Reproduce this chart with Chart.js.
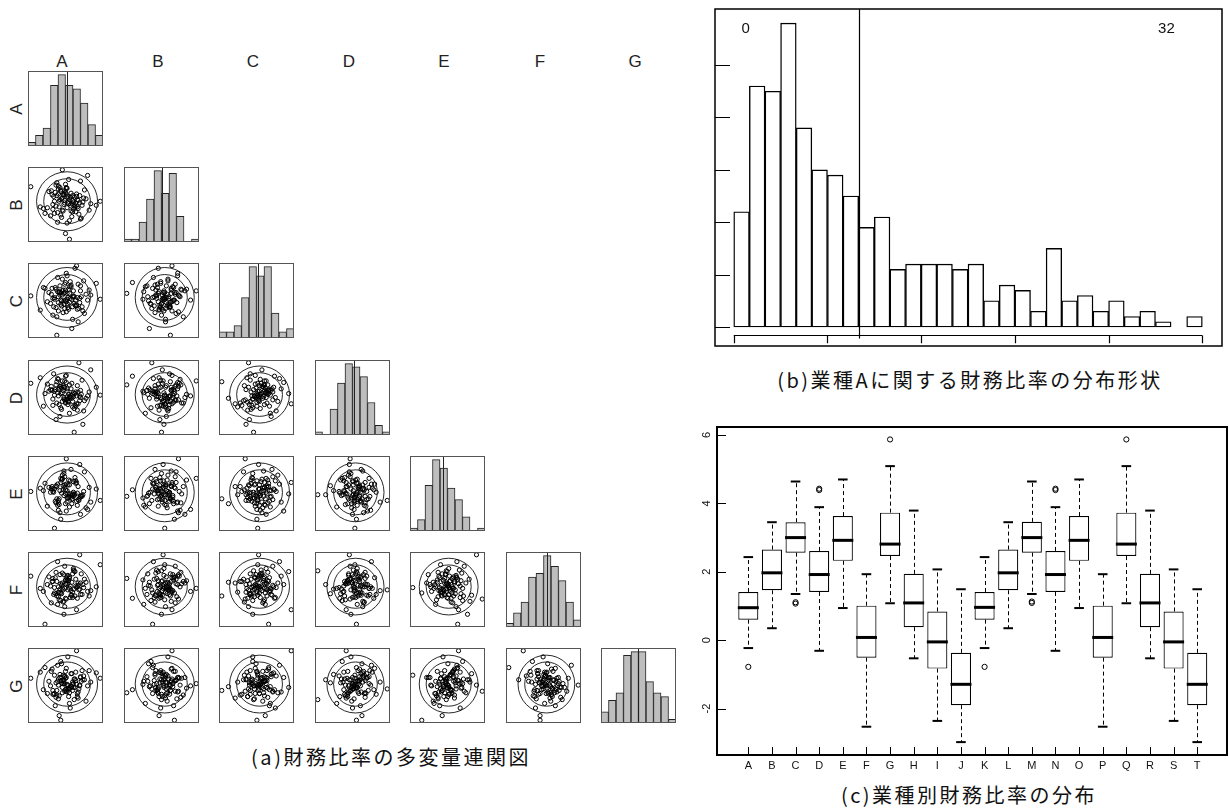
<!DOCTYPE html>
<html>
<head>
<meta charset="utf-8">
<script src="https://cdn.jsdelivr.net/npm/chart.js"></script>
<style>
  body { margin: 0; width: 1229px; height: 810px; background: #fff; position: relative; overflow: hidden; font-family: "Liberation Sans", Arial, sans-serif; color: #111; }
  canvas { position: absolute; }
  .head { position: absolute; font-size: 17px; width: 30px; text-align: center; line-height: 20px; color: #222; }
  .side { position: absolute; font-size: 17px; width: 30px; text-align: center; line-height: 20px; color: #222; transform: rotate(-90deg); }
  .cap { position: absolute; font-family: "Noto Sans CJK JP", sans-serif; font-size: 20px; letter-spacing: 2.5px; line-height: 24px; white-space: nowrap; transform: translateX(-50%); color: #111; }
</style>
</head>
<body>
<div class="cap" style="left:391px;top:745px">(a)財務比率の多変量連関図</div>
<div class="cap" style="left:970px;top:368px">(b)業種Aに関する財務比率の分布形状</div>
<div class="cap" style="left:969px;top:783px">(c)業種別財務比率の分布</div>
<canvas id="distChart" width="509" height="339" style="left:714px;top:8px"></canvas>
<canvas id="boxChart" width="539" height="370" style="left:690px;top:420px"></canvas>
<script>
// ---- (a) scatter matrix data ----
const vars = ['A', 'B', 'C', 'D', 'E', 'F', 'G'];

const varA = [5.2,4.1,6.3,3.8,5.9,4.6,7.1,2.9,5.5,4.9, 6.8,3.4,5.1,4.4,6.0,8.2,3.9,5.7,4.8,6.5,
  2.4,5.3,4.2,7.4,5.0,3.6,6.1,4.7,5.8,0.6, 4.5,6.6,3.2,5.4,7.8,4.0,5.6,6.2,3.7,4.9,
  5.1,7.0,4.3,2.7,6.4,5.2,3.5,6.9,4.6,5.9, 8.9,4.1,5.3,6.7,3.3,4.8,5.5,7.3,4.4,6.0,
  3.9,5.0,6.3,4.2,1.8,5.7,6.8,4.5,5.2,3.8, 7.6,4.7,5.4,6.1,3.1,4.9,5.8,6.6,4.0,5.1,
  2.2,6.4,4.3,5.6,7.2,3.6,5.0,4.6,6.2,5.3, 4.8,3.4,6.9,5.5,4.1,8.0,5.9,4.4,6.5,9.4];
const varB = [4.4,6.1,5.0,7.2,3.9,5.6,4.7,6.4,2.8,5.3, 5.9,4.2,6.8,3.5,5.1,4.9,7.5,4.0,6.2,5.4,
  3.7,5.8,4.5,6.6,1.2,5.2,4.8,6.0,3.3,7.0, 5.5,4.3,6.5,4.9,8.4,3.8,5.7,4.6,6.3,5.0,
  6.9,3.1,5.4,4.4,6.1,2.5,5.8,7.7,4.1,5.3, 4.7,6.7,5.1,3.6,6.0,4.8,0.5,5.6,6.4,4.2,
  5.9,7.3,3.9,5.2,4.5,6.2,5.0,3.2,6.8,4.6, 5.5,4.0,7.9,5.7,3.4,6.5,4.9,5.3,2.6,6.1,
  4.3,5.8,6.9,4.7,5.1,3.7,6.3,9.1,4.4,5.6, 6.0,4.8,3.0,5.4,7.1,4.1,5.9,6.6,4.5,5.2];
const varC = [5.7,3.6,4.9,6.2,5.3,7.4,4.1,5.8,6.5,3.9, 4.6,5.1,8.1,4.4,6.0,5.5,2.9,6.7,4.8,5.2,
  6.3,4.0,5.9,3.3,7.0,5.0,4.5,6.1,1.5,5.4, 4.2,6.8,5.6,3.8,4.9,7.6,5.1,4.3,6.4,5.8,
  3.5,5.3,6.6,4.7,9.0,5.0,4.1,6.0,5.5,2.6, 6.9,4.6,5.2,3.9,6.3,4.4,5.7,7.2,4.9,5.4,
  0.7,6.1,4.2,5.8,3.7,6.5,5.1,4.8,7.8,4.0, 5.6,3.4,6.2,5.3,4.5,6.8,5.0,2.3,5.9,4.7,
  6.4,4.3,5.5,7.1,3.6,5.2,4.9,6.0,8.7,4.4, 5.7,3.1,6.6,4.6,5.3,6.1,4.1,5.8,3.8,5.0];
const varD = [4.9,5.8,3.7,6.4,5.2,4.3,7.0,5.6,2.8,6.1, 5.0,4.6,6.7,3.5,5.4,8.3,4.1,5.9,4.8,6.3,
  5.3,3.9,6.0,4.4,7.5,5.1,0.4,5.7,4.7,6.6, 3.3,5.5,6.2,4.2,5.0,7.2,4.9,3.8,5.8,6.9,
  4.5,5.2,2.4,6.5,4.0,5.6,7.8,4.8,5.4,3.6, 6.1,5.0,4.3,9.2,5.7,4.6,6.4,3.1,5.3,4.9,
  6.8,4.1,5.5,3.9,7.3,5.1,4.4,6.0,5.9,2.0, 4.7,6.3,5.2,3.4,5.8,4.5,6.6,4.0,5.4,7.6,
  3.7,5.0,6.2,4.8,1.4,5.6,4.2,6.9,5.3,4.6, 6.1,3.8,5.7,4.9,7.1,5.5,4.3,6.4,3.2,5.1];
const varE = [5.4,4.2,6.6,3.9,5.0,7.3,4.7,5.8,3.4,6.1, 4.5,5.6,2.9,6.9,5.2,4.0,5.9,8.0,4.8,3.6,
  6.3,5.1,4.4,7.7,5.5,0.8,4.9,6.0,3.8,5.3, 6.7,4.3,5.7,4.6,3.1,6.2,5.0,7.0,4.1,5.8,
  9.3,4.8,5.4,3.5,6.4,4.5,5.2,2.5,6.8,4.9, 5.6,3.9,6.1,4.2,5.9,7.5,4.7,5.3,1.9,6.5,
  4.4,5.0,6.3,3.7,5.7,4.6,8.6,5.1,4.0,6.0, 3.3,5.5,6.7,4.8,5.2,7.1,4.3,5.9,3.6,6.2,
  5.4,4.1,2.7,6.6,4.9,5.6,3.8,6.9,5.0,4.5, 7.8,5.3,4.7,6.1,3.0,5.8,4.4,6.4,5.1,4.2];
const varF = [6.0,4.5,5.3,7.1,3.8,5.7,4.2,6.5,5.0,2.6, 4.9,6.3,5.5,3.4,7.6,4.7,5.9,4.1,6.8,5.2,
  0.3,5.6,4.4,6.2,3.7,5.1,7.3,4.8,5.8,6.6, 4.3,5.4,3.1,6.0,4.6,8.5,5.3,4.0,6.4,5.0,
  3.6,6.9,4.9,5.5,2.2,6.1,4.2,5.7,7.0,4.5, 5.2,3.9,6.7,4.8,5.9,1.6,6.3,5.1,4.4,7.4,
  4.0,5.6,6.2,3.5,5.0,4.7,9.4,5.4,6.6,4.3, 5.8,3.2,6.0,4.9,5.3,7.9,4.1,5.7,2.9,6.4,
  4.6,5.1,6.8,3.8,5.5,4.4,6.1,5.0,7.2,4.8, 3.3,5.9,4.2,6.5,5.2,4.0,6.9,5.6,3.7,8.1];
const varG = [4.6,5.9,6.8,3.5,5.2,4.1,7.0,5.6,2.7,6.3, 5.0,4.4,6.1,8.2,4.8,5.5,3.8,6.6,5.3,4.0,
  7.4,5.1,1.1,5.8,4.5,6.4,3.2,5.7,4.9,6.0, 5.4,4.2,6.9,3.6,5.0,7.7,4.7,5.9,2.4,6.2,
  4.3,5.6,6.5,4.0,9.6,5.2,3.9,6.1,4.8,5.5, 6.7,3.3,5.0,4.6,7.2,5.8,4.1,6.3,0.5,5.3,
  4.4,6.0,5.7,3.7,6.8,4.9,5.1,7.9,4.2,5.4, 3.0,6.4,4.7,5.9,5.0,4.3,6.6,3.4,5.6,7.3,
  4.5,5.2,6.1,2.1,5.8,4.0,6.9,5.3,4.8,8.8, 5.5,3.9,6.2,4.6,5.1,7.0,4.4,5.7,3.6,6.0];
const series = [varA, varB, varC, varD, varE, varF, varG];

// histogram counts on the diagonal (10 bins each) and the marker line position (in bins)
const histA = [1, 3, 5, 17, 20, 17, 16, 12, 6, 3];
const histB = [1, 1, 7, 15, 25, 17, 24, 9, 0, 1];
const histC = [2, 2, 4, 13, 23, 20, 23, 8, 2, 3];
const histD = [1, 0, 8, 16, 22, 21, 18, 10, 3, 1];
const histE = [1, 4, 16, 25, 22, 15, 11, 5, 0, 1];
const histF = [1, 4, 7, 14, 15, 20, 17, 13, 7, 2];
const histG = [3, 6, 8, 18, 19, 19, 11, 8, 7, 1];
const hists = [histA, histB, histC, histD, histE, histF, histG];
const histMarks = [5.2, 5.02, 5.16, 5.18, 4.39, 5.49, 4.87];
const ellipseLevels = [1.95, 2.55];

// ---- (b) distribution of industry A ----
const distCounts = [22, 46, 45, 58, 38, 30, 29, 25, 19, 21, 11, 12, 12, 12, 11,
  12, 5, 8, 7, 3, 15, 5, 6, 3, 5, 2, 3, 1, 0, 2];
const distXTicks = [0, 6, 12, 18, 24, 30];
const distYTicks = [0, 10, 20, 30, 40, 50];
const distCut = 8;
const distNotes = ['0', '32'];

// ---- (c) box plots by industry ----
const boxLabels = ['A','B','C','D','E','F','G','H','I','J','K','L','M','N','O','P','Q','R','S','T'];
const boxLow  = [-0.23, 0.35, 1.35, -0.31, 0.94, -2.53, 1.08, -0.53, -2.36, -2.98,
                 -0.23, 0.35, 1.35, -0.31, 0.94, -2.53, 1.08, -0.53, -2.36, -2.98];
const boxQ1   = [0.60, 1.46, 2.56, 1.41, 2.32, -0.51, 2.46, 0.38, -0.83, -1.90,
                 0.60, 1.46, 2.56, 1.41, 2.32, -0.51, 2.46, 0.38, -0.83, -1.90];
const boxMed  = [0.95, 1.97, 3.00, 1.92, 2.92, 0.08, 2.81, 1.09, -0.05, -1.29,
                 0.96, 1.97, 3.00, 1.92, 2.92, 0.08, 2.81, 1.09, -0.05, -1.29];
const boxQ3   = [1.41, 2.65, 3.45, 2.61, 3.63, 1.01, 3.73, 1.94, 0.84, -0.37,
                 1.41, 2.65, 3.46, 2.61, 3.63, 1.01, 3.73, 1.94, 0.84, -0.37];
const boxHigh = [2.43, 3.45, 4.64, 3.89, 4.70, 1.93, 5.09, 3.79, 2.07, 1.49,
                 2.43, 3.45, 4.64, 3.89, 4.70, 1.93, 5.09, 3.79, 2.07, 1.49];
const outlierCat = ['A', 'C', 'C', 'D', 'D', 'G', 'K', 'M', 'M', 'N', 'N', 'Q'];
const outlierVal = [-0.78, 1.07, 1.11, 4.39, 4.43, 5.87, -0.78, 1.09, 1.13, 4.39, 4.43, 5.87];
const boxYTicks = [-2, 0, 2, 4, 6];

Chart.defaults.font.family = '"Liberation Sans", Arial, sans-serif';
Chart.defaults.animation = false;

const mean = a => a.reduce((s, v) => s + v, 0) / a.length;
const sd = a => { const m = mean(a); return Math.sqrt(a.reduce((s, v) => s + (v - m) * (v - m), 0) / (a.length - 1)); };
// axis range = data range widened by 4% on each side
const padRange = a => { const lo = Math.min(...a), hi = Math.max(...a), d = (hi - lo) * 0.04; return [lo - d, hi + d]; };

// frame around the plot area
const framePlugin = {
  id: 'frame',
  afterDraw(chart, args, opts) {
    const { ctx, chartArea: a } = chart;
    ctx.save();
    ctx.strokeStyle = opts.color || '#000';
    ctx.lineWidth = opts.width || 1;
    const o = opts.width === 1 ? 0.5 : 0;
    ctx.strokeRect(a.left + o, a.top + o, a.right - a.left - 2 * o, a.bottom - a.top - 2 * o);
    ctx.restore();
  }
};

// vertical marker line on the diagonal histograms
const markPlugin = {
  id: 'mark',
  afterDatasetsDraw(chart, args, opts) {
    if (opts.at == null) return;
    const { ctx, chartArea: a } = chart;
    const x = Math.round(chart.scales.x.getPixelForValue(opts.at)) + 0.5;
    ctx.save();
    ctx.strokeStyle = '#222';
    ctx.lineWidth = 1;
    ctx.beginPath();
    ctx.moveTo(x, a.top);
    ctx.lineTo(x, a.bottom);
    ctx.stroke();
    ctx.restore();
  }
};

// concentric data ellipses on the scatter panels
const ellipsePlugin = {
  id: 'ellipses',
  afterDatasetsDraw(chart, args, opts) {
    if (!opts.levels) return;
    const { ctx, chartArea: a } = chart;
    const sx = chart.scales.x, sy = chart.scales.y;
    ctx.save();
    ctx.beginPath();
    ctx.rect(a.left, a.top, a.right - a.left, a.bottom - a.top);
    ctx.clip();
    ctx.strokeStyle = '#111';
    ctx.lineWidth = 0.9;
    opts.levels.forEach(k => {
      const cx = sx.getPixelForValue(opts.mx), cy = sy.getPixelForValue(opts.my);
      const rx = Math.abs(sx.getPixelForValue(opts.mx + k * opts.sx) - cx);
      const ry = Math.abs(sy.getPixelForValue(opts.my + k * opts.sy) - cy);
      ctx.beginPath();
      ctx.ellipse(cx, cy, rx, ry, 0, 0, Math.PI * 2);
      ctx.stroke();
    });
    ctx.restore();
  }
};

const quiet = { legend: { display: false }, tooltip: { enabled: false } };

// build the lower triangle of the matrix
vars.forEach((rowName, i) => {
  const left = 28, top = 71;
  const side = document.createElement('div');
  side.className = 'side';
  side.textContent = rowName;
  side.style.left = '2px';
  side.style.top = Math.round(top + 96.2 * i + 28) + 'px';
  document.body.appendChild(side);

  const head = document.createElement('div');
  head.className = 'head';
  head.textContent = rowName;
  head.style.left = Math.round(left + 95.5 * i + 19) + 'px';
  head.style.top = '52px';
  document.body.appendChild(head);

  for (let j = 0; j <= i; j++) {
    const cv = document.createElement('canvas');
    cv.width = 75; cv.height = 75;
    cv.style.left = Math.round(left + 95.5 * j) + 'px';
    cv.style.top = Math.round(top + 96.2 * i) + 'px';
    document.body.appendChild(cv);

    if (i === j) {
      const counts = hists[i];
      new Chart(cv, {
        type: 'bar',
        data: {
          datasets: [{
            data: counts.map((c, k) => ({ x: k + 0.5, y: c })),
            backgroundColor: '#bebebe',
            borderColor: '#222',
            borderWidth: 1,
            borderSkipped: false,
            barPercentage: 1,
            categoryPercentage: 1
          }]
        },
        options: {
          responsive: false,
          events: [],
          layout: { padding: 0, autoPadding: false },
          plugins: { ...quiet, frame: { color: '#555', width: 1 }, mark: { at: histMarks[i] } },
          scales: {
            x: { type: 'linear', min: 0, max: 10, offset: false, display: false },
            y: { min: 0, max: Math.max(...counts) * 1.05, display: false }
          }
        },
        plugins: [markPlugin, framePlugin]
      });
    } else {
      const xs = series[j], ys = series[i];
      const [x0, x1] = padRange(xs), [y0, y1] = padRange(ys);
      new Chart(cv, {
        type: 'scatter',
        data: {
          datasets: [{
            data: xs.map((v, k) => ({ x: v, y: ys[k] })),
            pointRadius: 2.1,
            pointBorderWidth: 1,
            pointBorderColor: '#000',
            pointBackgroundColor: 'rgba(255,255,255,0)'
          }]
        },
        options: {
          responsive: false,
          events: [],
          layout: { padding: 0, autoPadding: false },
          plugins: {
            ...quiet,
            frame: { color: '#555', width: 1 },
            ellipses: { levels: ellipseLevels, mx: mean(xs), my: mean(ys), sx: sd(xs), sy: sd(ys) }
          },
          scales: {
            x: { type: 'linear', min: x0, max: x1, display: false },
            y: { type: 'linear', min: y0, max: y1, display: false }
          }
        },
        plugins: [ellipsePlugin, framePlugin]
      });
    }
  }
});

// ---- (b) ----
const distAxisPlugin = {
  id: 'distAxis',
  afterDraw(chart) {
    const { ctx, chartArea: a } = chart;
    const sx = chart.scales.x, sy = chart.scales.y;
    ctx.save();
    ctx.strokeStyle = '#000';
    ctx.lineWidth = 1.2;
    // x axis line with downward ticks
    const ay = Math.round(sy.getPixelForValue(-1.55)) + 0.5;
    const ty = sy.getPixelForValue(-3.1);
    ctx.beginPath();
    ctx.moveTo(sx.getPixelForValue(distXTicks[0]), ay);
    ctx.lineTo(sx.getPixelForValue(distXTicks[distXTicks.length - 1]), ay);
    distXTicks.forEach(t => {
      const x = Math.round(sx.getPixelForValue(t)) + 0.5;
      ctx.moveTo(x, ay);
      ctx.lineTo(x, ty);
    });
    // inward y ticks
    distYTicks.forEach(t => {
      const y = Math.round(sy.getPixelForValue(t)) + 0.5;
      ctx.moveTo(a.left, y);
      ctx.lineTo(a.left + 15, y);
    });
    // cut line
    const cx = Math.round(sx.getPixelForValue(distCut)) + 0.5;
    ctx.moveTo(cx, a.top);
    ctx.lineTo(cx, sy.getPixelForValue(-2.2));
    ctx.stroke();
    // counts on each side
    ctx.fillStyle = '#111';
    ctx.font = '15px "Liberation Sans", Arial, sans-serif';
    ctx.textAlign = 'center';
    ctx.textBaseline = 'middle';
    ctx.fillText(distNotes[0], sx.getPixelForValue(0.77), sy.getPixelForValue(56.9));
    ctx.fillText(distNotes[1], sx.getPixelForValue(27.7), sy.getPixelForValue(56.9));
    ctx.restore();
  }
};

new Chart(document.getElementById('distChart'), {
  type: 'bar',
  data: {
    datasets: [{
      data: distCounts.map((c, k) => ({ x: k + 0.5, y: c })),
      backgroundColor: '#fff',
      borderColor: '#000',
      borderWidth: 1.4,
      borderSkipped: false,
      barPercentage: 1,
      categoryPercentage: 1
    }]
  },
  options: {
    responsive: false,
    events: [],
    layout: { padding: 1, autoPadding: false },
    plugins: { ...quiet, frame: { color: '#000', width: 1.5 } },
    scales: {
      x: { type: 'linear', min: -1.2, max: 31.26, offset: false, display: false },
      y: { min: -3.63, max: 60.7, display: false }
    }
  },
  plugins: [distAxisPlugin, framePlugin]
});

// ---- (c) ----
const boxAxisPlugin = {
  id: 'boxAxis',
  afterDatasetsDraw(chart) {
    const { ctx } = chart;
    const sx = chart.scales.x, sy = chart.scales.y;
    ctx.save();
    ctx.strokeStyle = '#000';
    ctx.lineWidth = 1;
    ctx.setLineDash([4, 3]);
    ctx.beginPath();
    boxLabels.forEach((c, i) => {
      const x = Math.round(sx.getPixelForValue(i + 1)) + 0.5;
      ctx.moveTo(x, sy.getPixelForValue(boxQ3[i]));
      ctx.lineTo(x, sy.getPixelForValue(boxHigh[i]));
      ctx.moveTo(x, sy.getPixelForValue(boxQ1[i]));
      ctx.lineTo(x, sy.getPixelForValue(boxLow[i]));
    });
    ctx.stroke();
    ctx.restore();
  },
  afterDraw(chart) {
    const { ctx, chartArea: a } = chart;
    const sx = chart.scales.x, sy = chart.scales.y;
    ctx.save();
    ctx.strokeStyle = '#000';
    ctx.lineWidth = 1;
    ctx.beginPath();
    boxLabels.forEach((c, i) => {
      const x = Math.round(sx.getPixelForValue(i + 1)) + 0.5;
      ctx.moveTo(x, a.bottom);
      ctx.lineTo(x, a.bottom - 8);
    });
    boxYTicks.forEach(t => {
      const y = Math.round(sy.getPixelForValue(t)) + 0.5;
      ctx.moveTo(a.left, y);
      ctx.lineTo(a.left + 9, y);
    });
    ctx.stroke();
    ctx.fillStyle = '#111';
    ctx.font = '11px "Liberation Sans", Arial, sans-serif';
    ctx.textAlign = 'center';
    ctx.textBaseline = 'middle';
    boxLabels.forEach((c, i) => ctx.fillText(c, sx.getPixelForValue(i + 1), a.bottom + 11));
    boxYTicks.forEach(t => {
      ctx.save();
      ctx.translate(a.left - 10, sy.getPixelForValue(t));
      ctx.rotate(-Math.PI / 2);
      ctx.fillText(String(t), 0, 0);
      ctx.restore();
    });
    ctx.restore();
  }
};

const catPos = c => boxLabels.indexOf(c) + 1;

new Chart(document.getElementById('boxChart'), {
  type: 'bar',
  data: {
    datasets: [
      {
        type: 'scatter',
        data: boxMed.map((v, i) => ({ x: i + 1, y: v })),
        pointStyle: 'line',
        pointRadius: 10.5,
        pointBorderWidth: 3,
        pointBorderColor: '#000',
        pointBackgroundColor: '#000'
      },
      {
        type: 'scatter',
        data: boxHigh.map((v, i) => ({ x: i + 1, y: v })).concat(boxLow.map((v, i) => ({ x: i + 1, y: v }))),
        pointStyle: 'line',
        pointRadius: 4.8,
        pointBorderWidth: 2,
        pointBorderColor: '#000',
        pointBackgroundColor: '#000'
      },
      {
        type: 'scatter',
        data: outlierVal.map((v, k) => ({ x: catPos(outlierCat[k]), y: v })),
        pointRadius: 2.6,
        pointBorderWidth: 1,
        pointBorderColor: '#000',
        pointBackgroundColor: 'rgba(255,255,255,0)'
      },
      {
        type: 'bar',
        data: boxQ1.map((v, i) => ({ x: i + 1, y: [v, boxQ3[i]] })),
        backgroundColor: '#fff',
        borderColor: '#000',
        borderWidth: 1.2,
        borderSkipped: false,
        barPercentage: 0.85,
        categoryPercentage: 1
      }
    ]
  },
  options: {
    responsive: false,
    events: [],
    layout: { padding: { left: 27, top: 7, right: 2, bottom: 35 }, autoPadding: false },
    plugins: { ...quiet, frame: { color: '#000', width: 2 } },
    scales: {
      x: { type: 'linear', min: -0.325, max: 21.26, offset: false, display: false },
      y: { min: -3.357, max: 6.234, display: false }
    }
  },
  plugins: [boxAxisPlugin, framePlugin]
});
</script>
</body>
</html>
